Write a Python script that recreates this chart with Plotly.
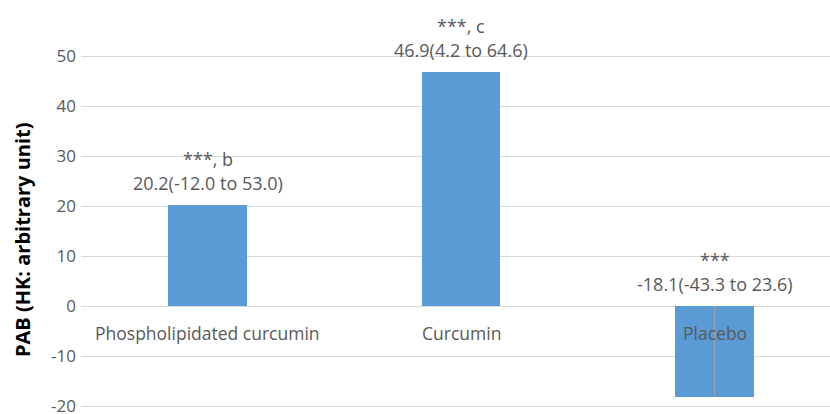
import plotly.graph_objects as go

categories = ["Phospholipidated curcumin", "Curcumin", "Placebo"]
values = [20.2, 46.9, -18.1]
ci_text = ["20.2(-12.0 to 53.0)", "46.9(4.2 to 64.6)", "-18.1(-43.3 to 23.6)"]
sig_text = ["***, b", "***, c", "***"]
y_ticks = [-20, -10, 0, 10, 20, 30, 40, 50]
y_tick_text = ["-20", "-10", "0", "10", "20", "30", "40", "50"]

BAR = "#5B9BD5"
GRID = "#D9D9D9"
TXT = "#595959"
FONT = "Open Sans"

fig = go.Figure()
fig.add_trace(go.Bar(x=categories, y=values, marker=dict(color=BAR, line=dict(width=0)),
                     width=0.31, showlegend=False, hoverinfo="skip"))

# thin leader line through the negative bar
fig.add_trace(go.Scatter(x=[categories[2], categories[2]], y=[0, values[2]], mode="lines",
                         line=dict(color="#A6A6A6", width=1), showlegend=False, hoverinfo="skip"))

for cat, v, ci, sig in zip(categories, values, ci_text, sig_text):
    base = max(v, 0)
    fig.add_annotation(x=cat, y=base, xref="x", yref="y", text=ci, showarrow=False,
                       yanchor="middle", yshift=22, font=dict(family=FONT, size=18, color=TXT))
    fig.add_annotation(x=cat, y=base, xref="x", yref="y", text=sig, showarrow=False,
                       yanchor="middle", yshift=46, font=dict(family=FONT, size=18, color=TXT))
    # category label sitting on the zero line
    fig.add_annotation(x=cat, y=0, xref="x", yref="y", text=cat, showarrow=False,
                       yanchor="middle", yshift=-27, font=dict(family=FONT, size=17.5, color=TXT))

# rotated axis title
fig.add_annotation(xref="paper", yref="paper", x=(22 - 81) / (830 - 81), y=(414 - 240) / 404,
                   xanchor="center", yanchor="middle", text="<b>PAB (HK: arbitrary unit)</b>",
                   showarrow=False, textangle=-90, font=dict(family=FONT, size=20, color="#000000"))

fig.update_layout(
    width=830, height=414,
    margin=dict(l=81, r=0, t=10, b=0, autoexpand=False),
    paper_bgcolor="white", plot_bgcolor="white",
    bargap=0,
    xaxis=dict(type="category", range=[-0.5, 2.455], showticklabels=False, showgrid=False,
               zeroline=False, showline=False, ticks="", automargin=False),
    yaxis=dict(range=[-21.6, 59.2], tickvals=y_ticks, ticktext=y_tick_text, showgrid=True,
               gridcolor=GRID, gridwidth=1, zeroline=True, zerolinecolor=GRID, zerolinewidth=1,
               showline=False, ticks="", ticklabeloverflow="allow", automargin=False,
               tickfont=dict(family=FONT, size=17, color=TXT), ticklabelstandoff=4),
)

fig.write_html("out.html")
